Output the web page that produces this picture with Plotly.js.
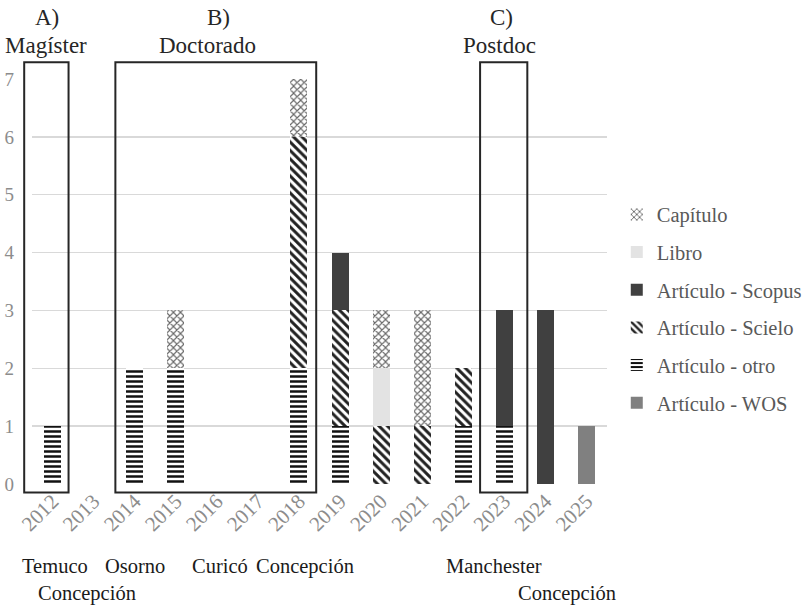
<!DOCTYPE html>
<html>
<head>
<meta charset="utf-8">
<script src="https://cdn.plot.ly/plotly-3.0.1.min.js"></script>
<style>html,body{margin:0;padding:0;background:#fff;}#chart{width:809px;height:606px;}</style>
</head>
<body>
<div id="chart"></div>
<script>
// ---- data ----
const years = ['2012','2013','2014','2015','2016','2017','2018','2019','2020','2021','2022','2023','2024','2025'];
const wos      = [0,0,0,0,0,0,0,0,0,0,0,0,0,1];
const otro     = [1,0,2,2,0,0,2,1,0,0,1,1,0,0];
const scielo   = [0,0,0,0,0,0,4,2,1,1,1,0,0,0];
const scopus   = [0,0,0,0,0,0,0,1,0,0,0,2,3,0];
const libro    = [0,0,0,0,0,0,0,0,1,0,0,0,0,0];
const capitulo = [0,0,0,1,0,0,1,0,1,2,0,0,0,0];
const yTicks = [0,1,2,3,4,5,6,7];

// section boxes (in category index units / value units)
const sectionLetters = ['A)','B)','C)'];
const sectionNames   = ['Magíster','Doctorado','Postdoc'];
const sectionLetterX = [-0.13, 4.03, 10.92];
const sectionNameX   = [-0.15, 3.78, 10.88];
const boxLeft  = [-0.69, 1.53, 10.41];
const boxRight = [0.39, 6.42, 11.56];
const boxTop = 7.29, boxBottom = -0.147;

// place labels under axis
const placeLabels = ['Temuco','Osorno','Curicó','Concepción','Concepción','Manchester','Concepción'];
const placeX      = [0.06, 2.0, 4.07, 6.14, 0.85, 10.75, 12.53];
const placeRow    = [0, 0, 0, 0, 1, 0, 1];

const SERIF = 'Liberation Serif';
const nCat = years.length;
const yMax = 7;

function bar(name, y, rank, marker) {
  return {type:'bar', name:name, x:years, y:y, marker:marker, legendgroup:name,
          legendrank:rank, hoverinfo:'name+y'};
}
const traces = [
  bar('Artículo - WOS', wos, 6, {color:'#808080', line:{width:0}}),
  bar('Artículo - otro', otro, 5, {color:'#ffffff', line:{width:0},
      pattern:{shape:'-', fgcolor:'#111111', bgcolor:'#ffffff', fgopacity:1, size:5, solidity:0.5}}),
  bar('Artículo - Scielo', scielo, 4, {color:'#ffffff', line:{width:0},
      pattern:{shape:'\\', fgcolor:'#222222', bgcolor:'#ffffff', fgopacity:1, size:6, solidity:0.5}}),
  bar('Artículo - Scopus', scopus, 3, {color:'#404040', line:{width:0}}),
  bar('Libro', libro, 2, {color:'#e3e3e3', line:{width:0}}),
  bar('Capítulo', capitulo, 1, {color:'#ffffff', line:{width:0},
      pattern:{shape:'x', fgcolor:'#666666', bgcolor:'#ffffff', fgopacity:1, size:5, solidity:0.4}})
];

const toPX = i => (i + 0.5) / nCat;
const toPY = v => v / yMax;

const shapes = boxLeft.map((l, i) => ({
  type:'rect', xref:'paper', yref:'paper',
  x0:toPX(l), x1:toPX(boxRight[i]), y0:toPY(boxBottom), y1:toPY(boxTop),
  line:{color:'#262626', width:2}, fillcolor:'rgba(0,0,0,0)', layer:'above'
}));

const annotations = [];
sectionLetters.forEach((t, i) => {
  annotations.push({text:t, xref:'x', yref:'paper', x:sectionLetterX[i], y:1.152,
    showarrow:false, xanchor:'center', yanchor:'middle', font:{family:SERIF, size:23, color:'#262626'}});
  annotations.push({text:sectionNames[i], xref:'x', yref:'paper', x:sectionNameX[i], y:1.082,
    showarrow:false, xanchor:'center', yanchor:'middle', font:{family:SERIF, size:23, color:'#262626'}});
});
placeLabels.forEach((t, i) => {
  annotations.push({text:t, xref:'x', yref:'paper', x:placeX[i], y: placeRow[i] === 0 ? -0.203 : -0.27,
    showarrow:false, xanchor:'center', yanchor:'middle', font:{family:SERIF, size:20.5, color:'#1a1a1a'}});
});

const layout = {
  width:809, height:606,
  margin:{l:32, r:202, t:79, b:121.5, pad:0, autoexpand:false},
  paper_bgcolor:'#ffffff', plot_bgcolor:'#ffffff',
  barmode:'stack', bargap:0.586,
  font:{family:SERIF},
  xaxis:{type:'category', range:[-0.5, nCat - 0.5], tickangle:-45,
         tickfont:{family:SERIF, size:21, color:'#8c8c8c'},
         showgrid:false, showline:false, zeroline:false, ticks:'', fixedrange:true, automargin:false},
  yaxis:{range:[0, yMax], tickvals:yTicks, tickfont:{family:SERIF, size:19, color:'#8c8c8c'},
         showgrid:true, gridcolor:'#d9d9d9', gridwidth:1.5, zeroline:false, showline:false,
         ticks:'', ticklabelstandoff:17, fixedrange:true, automargin:false},
  legend:{x:1.017, xanchor:'left', y:0.433, yanchor:'middle', traceorder:'grouped',
          tracegroupgap:8, font:{family:SERIF, size:20.5, color:'#595959'}, bgcolor:'rgba(0,0,0,0)'},
  shapes:shapes,
  annotations:annotations
};

Plotly.newPlot('chart', traces, layout, {displayModeBar:false, staticPlot:true});
</script>
</body>
</html>
